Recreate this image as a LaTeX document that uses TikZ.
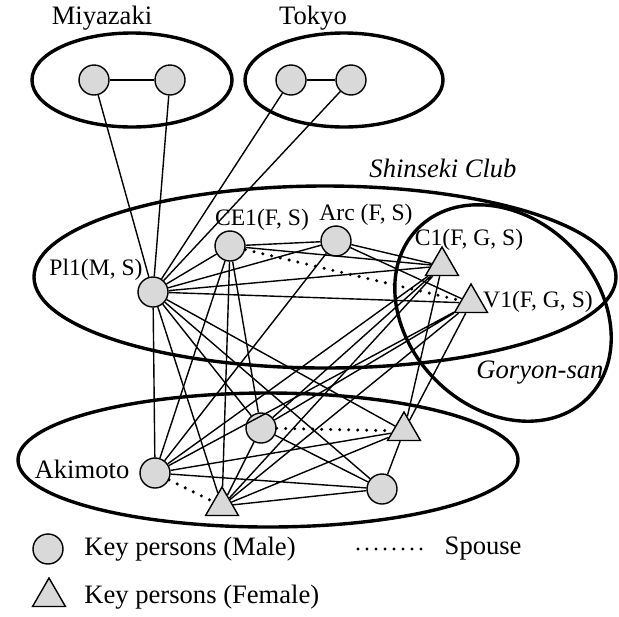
\documentclass[tikz,border=0pt]{standalone}
\usepackage{fontspec}
\setmainfont{Liberation Serif}
\usetikzlibrary{positioning,shapes.geometric}

\begin{document}
\begin{tikzpicture}[x=0.5pt, y=-0.5pt, line width=0.7pt,
    male/.style={draw, circle, fill=gray!30, minimum size=15pt, inner sep=0pt},
    female/.style={draw, regular polygon, regular polygon sides=3, fill=gray!30, minimum size=19pt, inner sep=0pt},
    group/.style={line width=1.7pt},
    spouse/.style={line width=1.7pt, line cap=round, dash pattern=on 0pt off 4.5pt},
    tag/.style={font=\fontsize{11.8}{13}\selectfont, inner sep=0pt},
    title/.style={font=\fontsize{13.3}{15}\selectfont, inner sep=0pt}]
    \useasboundingbox (0,0) rectangle (619,616);

    % groups
    \draw[group] (132,80) ellipse (100 and 47);
    \draw[group] (344,80) ellipse (99 and 47);
    \draw[group] (325,277) ellipse (291 and 91);
    \draw[group, rotate around={-45:(503,313)}] (503,313) ellipse (120 and 95);
    \draw[group] (268,460) ellipse (250 and 67);

    \node[title] (lmiya) at (102,18) {Miyazaki};
    \node[title] (ltokyo) at (313,18) {Tokyo};
    \node[title] (lclub) at (443,168) {\itshape Shinseki Club};
    \node[title] (lgoryon) at (540,373) {\itshape Goryon-san};
    \node[title] (lakimoto) at (82,469) {Akimoto};

    % key persons
    \node[male] (m1) at (94,80) {};
    \node[male] (m2) at (170,80) {};
    \node[male] (t1) at (291,80) {};
    \node[male] (t2) at (351,80) {};
    \node[male] (pl) at (153,292) {};
    \node[male] (ce) at (230,246) {};
    \node[male] (arc) at (336,241) {};
    \node[female] (c1) at (442,266) {};
    \node[female] (v1) at (471,303) {};
    \node[male] (a1) at (261,428) {};
    \node[female] (f1) at (404,431) {};
    \node[male] (ak) at (155,473) {};
    \node[female] (f2) at (222,506) {};
    \node[male] (a2) at (382,489) {};

    \node[tag] (lpl) at (96,270) {Pl1(M, S)};
    \node[tag] (lce) at (262,220) {CE1(F, S)};
    \node[tag] (larc) at (366,215) {Arc (F, S)};
    \node[tag] (lc1) at (469,240) {C1(F, G, S)};
    \node[tag] (lv1) at (538,302) {V1(F, G, S)};

    % ties
    \draw (m1) -- (m2) (t1) -- (t2);
    \draw (pl) -- (m1) (pl) -- (m2) (pl) -- (t1) (pl) -- (t2);
    \draw (pl) -- (ce) (pl) -- (arc) (pl) -- (c1) (pl) -- (v1) (pl) -- (ak) (pl) -- (f2) (pl) -- (a1) (pl) -- (f1) (pl) -- (a2);
    \draw (ce) -- (arc) (ce) -- (c1) (ce) -- (ak) (ce) -- (f2) (ce) -- (a1);
    \draw (arc) -- (c1) (arc) -- (v1) (arc) -- (ak);
    \draw (c1) -- (ak) (c1) -- (a1) (c1) -- (f2) (c1) -- (f1);
    \draw (v1) -- (ak) (v1) -- (a1) (v1) -- (f2) (v1) -- (f1);
    \draw (a1) -- (f2) (a1) -- (a2);
    \draw (ak) -- (f1) (ak) -- (a2) (f2) -- (f1) (f2) -- (a2) (a2) -- (f1);
    \draw[spouse] (ce) -- (v1);
    \draw[spouse] (a1) -- (f1);
    \draw[spouse] (ak) -- (f2);

    % legend
    \node[male] (legm) at (48,549) {};
    \node[title, right=10pt of legm] (lmale) {Key persons (Male)};
    \node[female] (legf) at (49,597) {};
    \node[title, anchor=west] (lfemale) at (lmale.west |- legf) {Key persons (Female)};
    \coordinate (sp1) at (358,549);
    \coordinate (sp2) at (428,549);
    \draw[spouse] (sp1) -- (sp2);
    \node[title, right=8pt of sp2] (lspouse) {Spouse};
\end{tikzpicture}
\end{document}
